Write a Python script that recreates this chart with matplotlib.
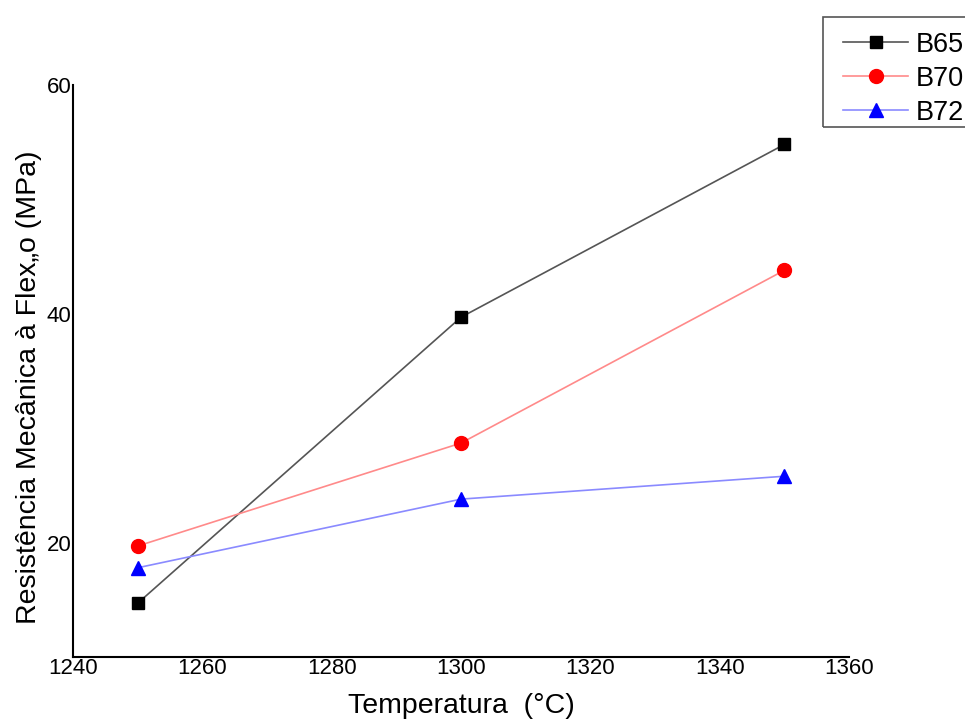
import matplotlib
matplotlib.use("Agg")
import matplotlib.pyplot as plt
from matplotlib.patches import Rectangle

temperatura = [1250, 1300, 1350]
b65 = [14.7, 39.7, 54.8]
b70 = [19.7, 28.7, 43.8]
b72 = [17.8, 23.8, 25.8]

plt.rcParams["font.family"] = ["Liberation Sans", "DejaVu Sans"]

W, H = 965, 720
fig = plt.figure(figsize=(W / 100, H / 100), dpi=100)
ax = fig.add_axes([73 / W, 1 - 657 / H, (849 - 73) / W, (657 - 85) / H])

ax.plot(temperatura, b65, color="#555555", linewidth=1.2, marker="s", markersize=9,
        markerfacecolor="black", markeredgecolor="black", label="B65")
ax.plot(temperatura, b70, color="#ff8a8a", linewidth=1.2, marker="o", markersize=10,
        markerfacecolor="red", markeredgecolor="red", label="B70")
ax.plot(temperatura, b72, color="#8a8aff", linewidth=1.2, marker="^", markersize=10,
        markerfacecolor="blue", markeredgecolor="blue", label="B72")

ax.set_xlim(1240, 1360)
ax.set_ylim(10, 60)
ax.set_xticks(range(1240, 1361, 20))
ax.set_yticks([20, 40, 60])
ax.tick_params(length=0, labelsize=16, pad=1)
ax.spines["top"].set_visible(False)
ax.spines["right"].set_visible(False)
ax.spines["left"].set_linewidth(1.5)
ax.spines["bottom"].set_linewidth(1.5)
ax.set_xlabel("Temperatura  (°C)", fontsize=20.5, labelpad=10)
ax.set_ylabel("Resistência Mecânica à Flex„o (MPa)", fontsize=20.5)
ax.yaxis.set_label_coords(-0.04, 0.472)

# legend sits outside the axes, its box cut by the right edge like the original
fig.legend(loc="upper left", bbox_to_anchor=(843 / W, 1 - 31.5 / H), fontsize=19.5,
           frameon=False, handlelength=2.4, handletextpad=0.3, borderpad=0,
           labelspacing=0.3, borderaxespad=0)
fig.patches.append(Rectangle((823 / W, 1 - 127 / H), 160 / W, 110 / H,
                             transform=fig.transFigure, fill=False,
                             edgecolor="#555555", linewidth=1.2))

fig.savefig("out.png", dpi=100)
